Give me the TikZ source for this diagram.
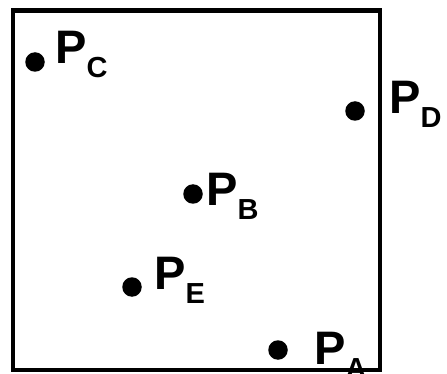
\documentclass[tikz,border=0pt]{standalone}
\usepackage{fontspec}
\setmainfont{Liberation Sans}
\usepackage{tikz}
\newcommand{\ptname}[1]{P\raisebox{-14pt}{\fontsize{29}{29}\selectfont #1}}

\begin{document}
\begin{tikzpicture}[x=1pt, y=-1pt,
    dot/.style={circle, fill=black, inner sep=0pt, minimum size=19.5pt},
    plabel/.style={anchor=base west, inner sep=0pt, font=\fontsize{47}{50}\selectfont\bfseries}]
  \useasboundingbox (0,0) rectangle (447,374);
  \draw[line width=4.5pt] (13,10.5) rectangle (380,370);
  % points
  \node[dot] (pc) at (35,62) {};
  \node[dot] (pd) at (355,111) {};
  \node[dot] (pb) at (193,194) {};
  \node[dot] (pe) at (132,287) {};
  \node[dot] (pa) at (278,350) {};
  % labels
  \node[plabel] (lc) at (55,64) {\ptname{C}};
  \node[plabel] (ld) at (389,114) {\ptname{D}};
  \node[plabel] (lb) at (206,206) {\ptname{B}};
  \node[plabel] (le) at (154,289) {\ptname{E}};
  \node[plabel] (la) at (314,364) {\ptname{A}};
\end{tikzpicture}
\end{document}
